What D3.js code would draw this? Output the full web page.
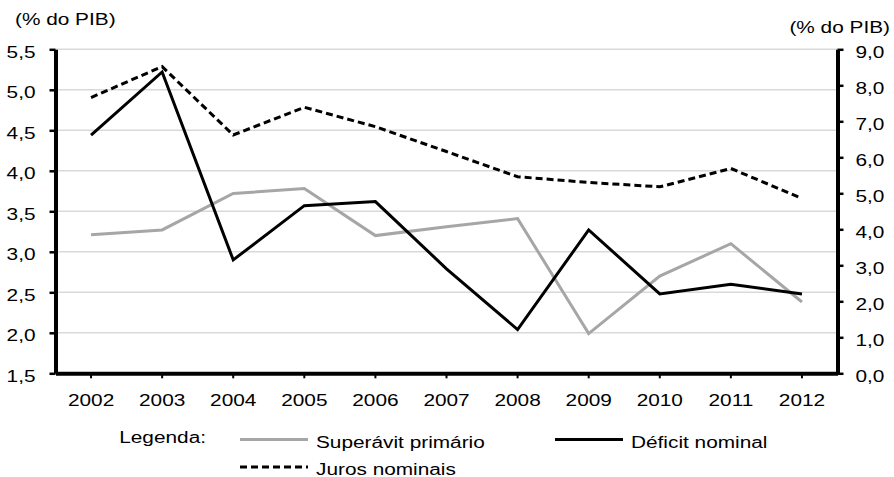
<!DOCTYPE html>
<html>
<head>
<meta charset="utf-8">
<script src="https://cdn.jsdelivr.net/npm/d3@7"></script>
<style>
  body { margin: 0; background: #fff; }
  svg text { font-family: "Liberation Sans", Arial, sans-serif; font-size: 16px; fill: #000; }
</style>
</head>
<body>
<svg id="chart" width="894" height="477"></svg>
<script>
// Data (% do PIB)
const years = ["2002", "2003", "2004", "2005", "2006", "2007", "2008", "2009", "2010", "2011", "2012"];
const superavit = [3.21, 3.27, 3.72, 3.78, 3.20, 3.31, 3.41, 1.99, 2.70, 3.10, 2.38];
const deficit = [4.44, 5.22, 2.90, 3.57, 3.62, 2.79, 2.04, 3.27, 2.48, 2.60, 2.48];
const juros = [7.66, 8.52, 6.62, 7.39, 6.85, 6.16, 5.46, 5.30, 5.18, 5.69, 4.86];

const leftTicks = [1.5, 2.0, 2.5, 3.0, 3.5, 4.0, 4.5, 5.0, 5.5];
const rightTicks = [0, 1, 2, 3, 4, 5, 6, 7, 8, 9];

const STRETCH = 1.3;
const xLeft = 55.5, xRight = 837.5, yTop = 49.3, yBottom = 373.3;

const pt = d3.formatLocale({decimal: ",", thousands: ".", grouping: [3], currency: ["R$", ""]});
const fmt = pt.format(".1f");

// glyphs in the reference are wider than plain Arial
function stretch(sel) {
  sel.each(function() {
    const w = this.getComputedTextLength();
    d3.select(this).attr("textLength", w * STRETCH).attr("lengthAdjust", "spacingAndGlyphs");
  });
}

const svg = d3.select("#chart");

// Scales
const x = d3.scaleBand().domain(years).range([xLeft, xRight]).padding(0);
const cx = d => x(d) + x.bandwidth() / 2;
const yL = d3.scaleLinear().domain([1.5, 5.5]).range([yBottom, yTop]);
const yR = d3.scaleLinear().domain([0, 9]).range([yBottom, yTop]);

// Gridlines (left axis)
svg.append("g")
  .selectAll("line")
  .data(leftTicks.slice(1)).enter()
  .append("line")
  .attr("x1", xLeft).attr("x2", xRight)
  .attr("y1", d => yL(d)).attr("y2", d => yL(d))
  .attr("stroke", "#d9d9d9")
  .attr("stroke-width", 1.5);

// Lines
const series = [
  {values: superavit, scale: yL, color: "#a6a6a6", dash: null},
  {values: deficit, scale: yL, color: "#000", dash: null},
  {values: juros, scale: yR, color: "#000", dash: "7,4"}
];

series.forEach(s => {
  const line = d3.line()
    .x((d, i) => cx(years[i]))
    .y(d => s.scale(d));
  svg.append("path")
    .datum(s.values)
    .attr("d", line)
    .attr("fill", "none")
    .attr("stroke", s.color)
    .attr("stroke-width", 3)
    .attr("stroke-dasharray", s.dash);
});

// X axis
const gx = svg.append("g")
  .attr("transform", "translate(0," + yBottom + ")")
  .call(d3.axisBottom(x).tickSize(5).tickSizeOuter(0));
gx.select(".domain").attr("stroke", "#000").attr("stroke-width", 4);
gx.selectAll(".tick line").attr("stroke-width", 2);
gx.selectAll(".tick text").attr("y", 33).attr("dy", 0).call(stretch);

// Left axis
const gl = svg.append("g")
  .attr("transform", "translate(" + xLeft + ",0)")
  .call(d3.axisLeft(yL).tickValues(leftTicks).tickFormat(fmt).tickSize(6).tickPadding(14).tickSizeOuter(0));
gl.select(".domain").attr("stroke", "#000").attr("stroke-width", 4);
gl.selectAll(".tick line").attr("stroke-width", 2.5);
gl.selectAll(".tick text").attr("dy", "0.5em").call(stretch);

// Right axis
const gr = svg.append("g")
  .attr("transform", "translate(" + xRight + ",0)")
  .call(d3.axisRight(yR).tickValues(rightTicks).tickFormat(fmt).tickSize(6).tickPadding(12).tickSizeOuter(0));
gr.select(".domain").attr("stroke", "#000").attr("stroke-width", 4);
gr.selectAll(".tick line").attr("stroke-width", 2.5);
gr.selectAll(".tick text").attr("dy", "0.5em").call(stretch);

svg.selectAll(".tick text").style("font-family", "'Liberation Sans', Arial, sans-serif").style("font-size", "16px").attr("fill", "#000");

// Axis titles
svg.append("text").attr("x", 15).attr("y", 25).text("(% do PIB)").call(stretch);
svg.append("text").attr("x", 890).attr("y", 33).attr("text-anchor", "end").text("(% do PIB)").call(stretch);

// Legend
const legend = svg.append("g");
legend.append("text").attr("x", 206).attr("y", 443).attr("text-anchor", "end").text("Legenda:").call(stretch);

const items = [
  {label: "Superávit primário", color: "#a6a6a6", dash: null, x: 240, y: 439.5},
  {label: "Déficit nominal", color: "#000", dash: null, x: 555, y: 439.5},
  {label: "Juros nominais", color: "#000", dash: "7,4", x: 240, y: 467}
];
items.forEach(it => {
  legend.append("line")
    .attr("x1", it.x).attr("x2", it.x + 68)
    .attr("y1", it.y).attr("y2", it.y)
    .attr("stroke", it.color)
    .attr("stroke-width", 3)
    .attr("stroke-dasharray", it.dash);
  legend.append("text")
    .attr("x", it.x + 76)
    .attr("y", it.y + 4)
    .attr("dy", "0.25em")
    .text(it.label)
    .call(stretch);
});
</script>
</body>
</html>
